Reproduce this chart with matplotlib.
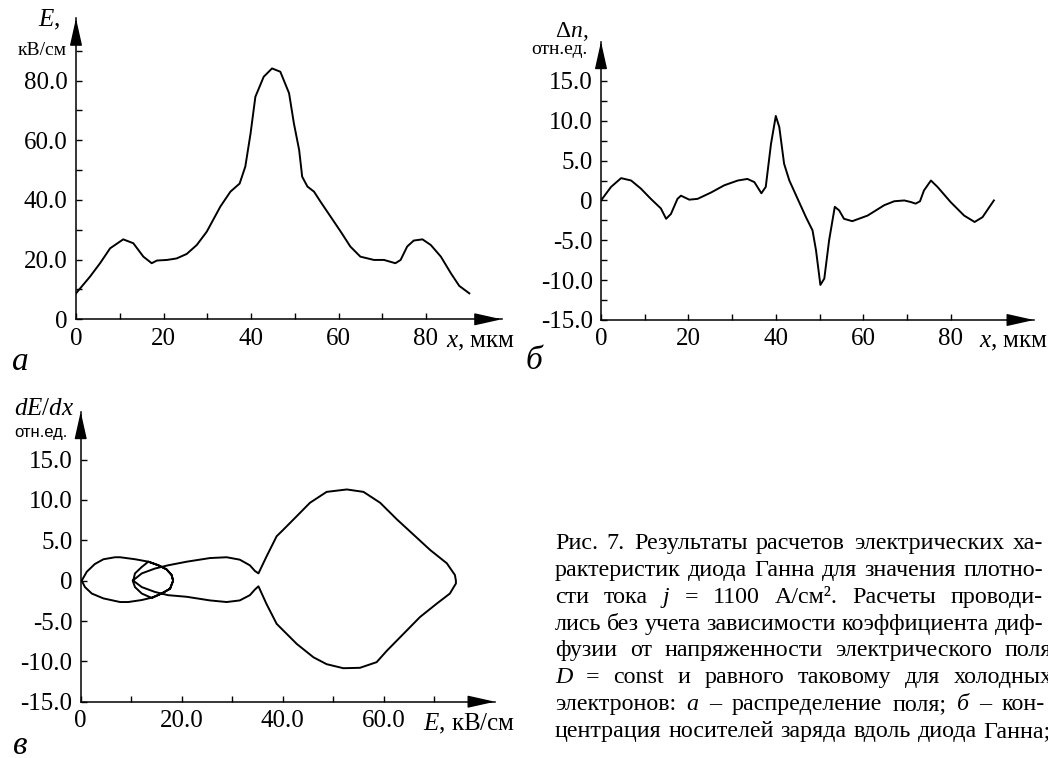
import matplotlib
matplotlib.use('Agg')
import matplotlib.pyplot as plt
from matplotlib.ticker import FixedLocator, FixedFormatter

# ---------------- data ----------------
# panel a: field distribution E(x)
x_a = [0, 3.2, 5.5, 7.8, 10.8, 13.1, 15.4, 17.3, 18.5, 20.8, 23.0, 25.3, 27.6, 29.9,
       33.0, 35.3, 37.4, 38.7, 39.9, 41.0, 42.9, 44.8, 46.7, 48.7, 49.8, 51.0, 51.7,
       52.9, 54.4, 55.9, 58.2, 60.5, 62.7, 65.0, 68.1, 70.4, 73.0, 74.2, 75.7, 77.2,
       79.2, 81.1, 83.4, 85.7, 87.6, 89.9]
E_a = [8.7, 14.3, 18.8, 23.8, 26.8, 25.5, 21.0, 18.8, 19.7, 19.9, 20.4, 21.9, 24.9, 29.4,
       37.8, 42.8, 45.5, 51.2, 62.3, 74.6, 81.3, 84.1, 83.0, 75.8, 65.7, 56.8, 47.8,
       44.5, 42.8, 39.4, 34.4, 29.4, 24.4, 21.0, 19.9, 19.9, 18.8, 19.9, 24.4, 26.4,
       26.8, 24.9, 21.0, 15.4, 11.2, 8.7]

# panel б: carrier concentration dn(x)
x_b = [0, 2.3, 4.6, 6.9, 9.1, 11.4, 13.7, 14.9, 16.0, 17.5, 18.3, 20.2, 22.1, 25.2, 28.2,
       31.3, 33.5, 35.1, 36.7, 37.7, 38.9, 40.0, 40.8, 41.9, 43.1, 45.0, 46.9, 48.4, 49.2,
       50.2, 51.1, 52.2, 53.5, 54.5, 55.6, 57.5, 61.0, 64.8, 67.1, 69.4, 70.9, 72.0, 73.0,
       73.9, 75.5, 77.0, 80.0, 83.1, 85.5, 87.3, 89.9]
n_b = [0.0, 1.7, 2.8, 2.5, 1.5, 0.2, -1.0, -2.3, -1.7, 0.2, 0.6, 0.1, 0.2, 1.0, 1.9,
       2.5, 2.7, 2.3, 0.9, 1.7, 7.1, 10.6, 9.2, 4.6, 2.5, 0.2, -2.1, -3.75, -6.25,
       -10.6, -9.8, -5.0, -0.8, -1.25, -2.3, -2.6, -1.9, -0.6, -0.1, 0.0, -0.2, -0.4, -0.1,
       1.25, 2.5, 1.7, -0.2, -1.9, -2.7, -2.1, 0.0]

# panel в: phase portrait dE/dx vs E (traced along the path)
E_v = [0.2, 1.2, 2.8, 4.5, 6.8, 7.8, 10.8, 13.4, 15.4, 17.0, 18.0, 18.3,
       17.7, 16.0, 14.1, 12.1, 10.75, 10.3,
       12.1, 14.7, 17.3, 21.0, 25.6, 28.9, 31.5, 33.5, 34.5, 35.2,
       36.8, 38.8, 40.1, 42.8, 45.4, 48.7, 52.7, 56.0, 59.3, 62.6, 65.9, 69.2, 72.5, 74.1, 74.3,
       74.3, 73.1, 70.5, 67.2, 63.9, 60.6, 58.6, 55.3, 52.0, 48.7, 46.1, 42.8, 38.8, 36.8, 35.2,
       34.5, 33.5, 31.5, 28.9, 25.6, 21.0, 17.3, 14.7, 12.1, 10.4,
       10.75, 12.1, 13.4, 15.4, 17.0, 18.0, 18.3,
       17.7, 16.0, 14.1, 12.1, 9.4, 7.8, 4.5, 2.2, 0.85, 0.2]
D_v = [0.0, 1.1, 2.06, 2.65, 2.9, 2.9, 2.65, 2.35, 1.9, 1.4, 0.7, 0.0,
       -1.0, -1.6, -2.15, -1.6, -0.8, 0.0,
       0.9, 1.5, 1.9, 2.35, 2.8, 2.9, 2.6, 1.9, 1.2, 0.9,
       3.0, 5.5, 6.3, 8.0, 9.65, 11.0, 11.3, 11.0, 9.65, 7.6, 5.7, 3.8, 2.15, 0.7, 0.0,
       -0.35, -1.6, -2.85, -4.5, -6.6, -8.7, -10.1, -10.8, -10.85, -10.35, -9.5, -7.85, -5.35, -2.9, -0.7,
       -1.1, -1.8, -2.45, -2.65, -2.45, -2.0, -1.8, -1.4, -0.8, 0.0,
       0.9, 1.7, 2.35, 1.9, 1.4, 0.7, 0.0,
       -1.0, -1.6, -2.1, -2.4, -2.65, -2.65, -2.2, -1.6, -0.8, 0.0]

# tick labels
xa_ticks = [0, 20, 40, 60, 80]
xa_labels = ['0', '20', '40', '60', '80']
ya_ticks = [0, 20, 40, 60, 80]
ya_labels = ['0', '20.0', '40.0', '60.0', '80.0']
yb_ticks = [-15, -10, -5, 0, 5, 10, 15]
yb_labels = ['-15.0', '-10.0', '-5.0', '0', '5.0', '10.0', '15.0']
xv_ticks = [0, 20, 40, 60]
xv_labels = ['0', '20.0', '40.0', '60.0']

caption = [
    [("Рис.", 'n'), ("7.", 'n'), ("Результаты", 'n'), ("расчетов", 'n'), ("электрических", 'n'), ("ха-", 'n')],
    [("рактеристик", 'n'), ("диода", 'n'), ("Ганна", 'n'), ("для", 'n'), ("значения", 'n'), ("плотно-", 'n')],
    [("сти", 'n'), ("тока", 'n'), ("j", 'i'), ("=", 'n'), ("1100", 'n'), ("А/см².", 'n'), ("Расчеты", 'n'), ("проводи-", 'n')],
    [("лись", 'n'), ("без", 'n'), ("учета", 'n'), ("зависимости", 'n'), ("коэффициента", 'n'), ("диф-", 'n')],
    [("фузии", 'n'), ("от", 'n'), ("напряженности", 'n'), ("электрического", 'n'), ("поля", 'n')],
    [("D", 'i'), ("=", 'n'), ("const", 'n'), ("и", 'n'), ("равного", 'n'), ("таковому", 'n'), ("для", 'n'), ("холодных", 'n')],
    [("электронов:", 'n'), ("а", 'i'), ("–", 'n'), ("распределение", 'n'), ("поля;", 'n'), ("б", 'i'), ("–", 'n'), ("кон-", 'n')],
    [("центрация", 'n'), ("носителей", 'n'), ("заряда", 'n'), ("вдоль", 'n'), ("диода", 'n'), ("Ганна;", 'n')],
]
caption_right = [1043, 1043, 1043, 1043, 1052, 1053, 1045, 1051]

# ---------------- style ----------------
plt.rcParams['font.family'] = ['Liberation Serif', 'DejaVu Serif']
plt.rcParams['mathtext.fontset'] = 'custom'
plt.rcParams['mathtext.rm'] = 'Liberation Serif'
plt.rcParams['mathtext.it'] = 'Liberation Serif:italic'
plt.rcParams['mathtext.bf'] = 'Liberation Serif:bold'

W, H = 1048, 758
fig = plt.figure(figsize=(W / 100, H / 100), dpi=100)
fig.patch.set_facecolor('white')

TICK_FS = 18


def ptext(x, y, s, **kw):
    return fig.text(x / W, 1 - y / H, s, **kw)


def make_axes(ox, oy, tipx, tipy, x0, y0, sx, sy):
    w = tipx - ox
    h = oy - tipy
    ax = fig.add_axes([ox / W, (H - oy) / H, w / W, h / H])
    ax.set_xlim(x0, x0 + w / sx)
    ax.set_ylim(y0, y0 + h / sy)
    for s in ['top', 'right']:
        ax.spines[s].set_visible(False)
    for s in ['left', 'bottom']:
        ax.spines[s].set_linewidth(1.1)
    ax.patch.set_visible(False)
    ax.tick_params(which='both', direction='in', length=4, width=1.0,
                   labelsize=TICK_FS, pad=6)
    kw = dict(arrowstyle='-|>,head_length=1.7,head_width=0.38', color='k', lw=1.0,
              mutation_scale=10, shrinkA=0, shrinkB=0)
    ax.annotate('', xy=(1, 0), xycoords='axes fraction', xytext=(-24, 0),
                textcoords='offset pixels', arrowprops=kw, annotation_clip=False)
    ax.annotate('', xy=(0, 1), xycoords='axes fraction', xytext=(0, -24),
                textcoords='offset pixels', arrowprops=kw, annotation_clip=False)
    return ax


# ---------------- panel a ----------------
axA = make_axes(76, 319.3, 501.7, 18.3, 0, 0, 4.375, 2.983)
axA.plot(x_a, E_a, color='k', lw=1.4, solid_joinstyle='round')
axA.xaxis.set_major_locator(FixedLocator(xa_ticks))
axA.xaxis.set_major_formatter(FixedFormatter(xa_labels))
axA.xaxis.set_minor_locator(FixedLocator([10, 30, 50, 70]))
axA.yaxis.set_major_locator(FixedLocator(ya_ticks))
axA.yaxis.set_major_formatter(FixedFormatter(ya_labels))
axA.yaxis.set_minor_locator(FixedLocator([10, 30, 50, 70, 90]))
ptext(60, 26, '$E$,', fontsize=18, ha='right', va='baseline')
ptext(67, 55, 'кВ/см', fontsize=14, ha='right', va='baseline')
ptext(446, 347, '$x$, мкм', fontsize=18, ha='left', va='baseline')
ptext(12, 370, 'а', fontsize=24, style='italic', ha='left', va='baseline')

# ---------------- panel б ----------------
axB = make_axes(601, 320, 1034, 41.7, 0, -15, 4.37, 7.97)
axB.plot(x_b, n_b, color='k', lw=1.4, solid_joinstyle='round')
axB.xaxis.set_major_locator(FixedLocator(xa_ticks))
axB.xaxis.set_major_formatter(FixedFormatter(xa_labels))
axB.xaxis.set_minor_locator(FixedLocator([10, 30, 50, 70]))
axB.yaxis.set_major_locator(FixedLocator(yb_ticks))
axB.yaxis.set_major_formatter(FixedFormatter(yb_labels))
axB.yaxis.set_minor_locator(FixedLocator([-12.5, -7.5, -2.5, 2.5, 7.5, 12.5]))
ptext(588, 37, 'Δ$n$,', fontsize=17, ha='right', va='baseline')
ptext(587, 54, 'отн.ед.', fontsize=14, ha='right', va='baseline')
ptext(979, 347, '$x$, мкм', fontsize=18, ha='left', va='baseline')
ptext(526, 369, 'б', fontsize=24, style='italic', ha='left', va='baseline')

# ---------------- panel в ----------------
axV = make_axes(80.7, 701.7, 495, 411.7, 0, -15, 5.05, 8.07)
axV.plot(E_v, D_v, color='k', lw=1.4, solid_joinstyle='round')
axV.xaxis.set_major_locator(FixedLocator(xv_ticks))
axV.xaxis.set_major_formatter(FixedFormatter(xv_labels))
axV.xaxis.set_minor_locator(FixedLocator([10, 30, 50, 70]))
axV.yaxis.set_major_locator(FixedLocator(yb_ticks))
axV.yaxis.set_major_formatter(FixedFormatter(yb_labels))
ptext(14, 415, '$dE/dx$', fontsize=18, ha='left', va='baseline')
ptext(14, 437, 'отн.ед.', fontsize=12, family='Liberation Sans', ha='left', va='baseline')
ptext(423, 730, '$E$, кВ/см', fontsize=18, ha='left', va='baseline')
ptext(13, 754, 'в', fontsize=24, style='italic', ha='left', va='baseline')

# ---------------- caption (justified) ----------------
renderer = fig.canvas.get_renderer()
# choose the caption size so that the (nearly unstretched) last line spans its width
probe = fig.text(0, 0, "центрация носителей заряда вдоль диода Ганна;", fontsize=16)
pw = probe.get_window_extent(renderer).width
probe.remove()
CAP_FS = 16 * (caption_right[-1] - 555 - 4) / pw
x_left = 555
base0 = 549
step = 26.85
for i, (tokens, xr) in enumerate(zip(caption, caption_right)):
    yb = base0 + i * step
    objs = []
    for s, st in tokens:
        t = fig.text(0, 0, s, fontsize=CAP_FS, style='italic' if st == 'i' else 'normal',
                     ha='left', va='baseline')
        objs.append(t)
    widths = [t.get_window_extent(renderer).width for t in objs]
    gap = (xr - x_left - sum(widths)) / (len(objs) - 1)
    xx = x_left
    for t, w in zip(objs, widths):
        t.set_position((xx / W, 1 - yb / H))
        xx += w + gap

fig.savefig('out.png', dpi=100, facecolor='white')
